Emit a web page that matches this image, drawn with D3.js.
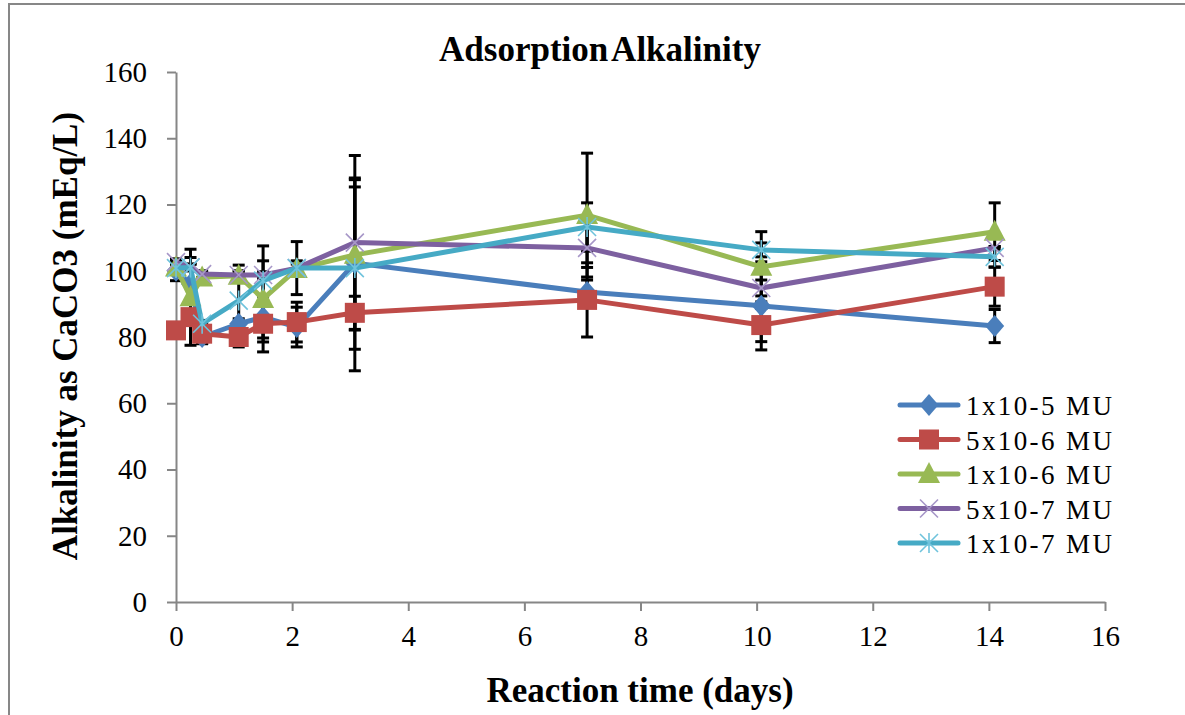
<!DOCTYPE html>
<html>
<head>
<meta charset="utf-8">
<script src="https://cdn.jsdelivr.net/npm/d3@7"></script>
<style>
  body { margin: 0; background: #fff; }
  text { font-family: "Liberation Serif", "Times New Roman", serif; }
</style>
</head>
<body>
<div class="container"></div>
<script>
// reaction times (days)
const times = [0, 0.25, 0.45, 1.08, 1.5, 2.08, 3.08, 7.08, 10.08, 14.1];

const names = ["1x10-5 MU", "5x10-6 MU", "1x10-6 MU", "5x10-7 MU", "1x10-7 MU"];

// alkalinity as CaCO3 (mEq/L)
const blueVals   = [100, 96, 80, 84, 86, 83, 102.3, 93.6, 89.4, 83.3];
const redVals    = [82, 86, 81, 80, 84, 84.5, 87.3, 91.2, 83.6, 95.2];
const greenVals  = [101, 92, 98, 98.5, 91.5, 100.5, 104.8, 116.8, 101.2, 111.8];
const purpleVals = [102.6, 101, 99, 98.7, 98.7, 100.8, 108.5, 106.9, 94.8, 106.9];
const cyanVals   = [100.8, 101, 84, 91, 97, 100.8, 100.8, 113.2, 106.3, 104.2];

// error bar half widths
const blueErr   = [3, 8, 2, 1.5, 6.3, 6, 32.5, 3.6, 13.3, 5];
const redErr    = [1.5, 1.5, 3, 3, 5.5, 6, 5, 11.2, 5, 5.9];
const greenErr  = [1.5, 14.5, 1.5, 1.5, 16, 1.5, 22.7, 18.7, 10.6, 8.7];
const purpleErr = [1, 1, 1, 1, 1, 8, 19.5, 5.9, 2.4, 0.4];
const cyanErr   = [1, 1, 1, 10.7, 6, 2.2, 24.5, 7.3, 2.1, 3.1];

const xTicks = [0, 2, 4, 6, 8, 10, 12, 14, 16];
const yTicks = [0, 20, 40, 60, 80, 100, 120, 140, 160];

const colors = ["#4a7ebb", "#be4b48", "#98b954", "#7d60a0", "#46aac5"];
const markColors = ["#4a7ebb", "#be4b48", "#98b954", "#a797c8", "#6fc3dc"];
const shapes = ["diamond", "square", "triangle", "cross", "star"];

const series = [blueVals, redVals, greenVals, purpleVals, cyanVals].map((vals, i) => ({
    name: names[i],
    color: colors[i],
    mcolor: markColors[i],
    shape: shapes[i],
    pts: vals.map((v, j) => ({t: times[j], v: v,
        e: [blueErr, redErr, greenErr, purpleErr, cyanErr][i][j]}))
}));

const width = 1185, height = 715;
const svg = d3.select(".container")
              .append("svg")
              .attr("width", width)
              .attr("height", height);

// chart frame
svg.append("rect")
   .attr("x", 9).attr("y", 4)
   .attr("width", 1200).attr("height", 730)
   .attr("fill", "none")
   .attr("stroke", "#878787")
   .attr("stroke-width", 2);

const x = d3.scaleLinear().domain([0, 16]).range([176, 1105]);
const y = d3.scaleLinear().domain([0, 160]).range([602, 72]);

const xAxis = svg.append("g")
                 .attr("transform", `translate(0,${y(0)})`)
                 .call(d3.axisBottom(x).tickValues(xTicks).tickSize(9).tickPadding(14).tickSizeOuter(0));
const yAxis = svg.append("g")
                 .attr("transform", `translate(${x(0)},0)`)
                 .call(d3.axisLeft(y).tickValues(yTicks).tickSize(9).tickPadding(20).tickSizeOuter(0));
[xAxis, yAxis].forEach(ax => {
    ax.select(".domain").attr("stroke", "#868686").attr("stroke-width", 2);
    ax.selectAll(".tick line").attr("stroke", "#868686").attr("stroke-width", 2);
    ax.selectAll(".tick text")
      .attr("fill", "#000")
      .style("font-family", "'Liberation Serif', serif")
      .style("font-size", "29px");
});

// error bars
const capW = 6;
const errG = svg.append("g").attr("stroke", "#000").attr("stroke-width", 3);
series.forEach(s => {
    s.pts.forEach(p => {
        errG.append("line")
            .attr("x1", x(p.t)).attr("x2", x(p.t))
            .attr("y1", y(p.v + p.e)).attr("y2", y(p.v - p.e));
        [p.v + p.e, p.v - p.e].forEach(c => {
            errG.append("line")
                .attr("x1", x(p.t) - capW).attr("x2", x(p.t) + capW)
                .attr("y1", y(c)).attr("y2", y(c));
        });
    });
});

function drawMarker(g, shape, cx, cy, color) {
    if (shape === "diamond") {
        g.append("path")
         .attr("d", `M${cx},${cy - 11}L${cx + 9.5},${cy}L${cx},${cy + 11}L${cx - 9.5},${cy}Z`)
         .attr("fill", color);
    } else if (shape === "square") {
        g.append("rect")
         .attr("x", cx - 10).attr("y", cy - 10)
         .attr("width", 20).attr("height", 20)
         .attr("fill", color);
    } else if (shape === "triangle") {
        g.append("path")
         .attr("d", `M${cx},${cy - 12}L${cx + 11},${cy + 9}L${cx - 11},${cy + 9}Z`)
         .attr("fill", color);
    } else if (shape === "cross") {
        g.append("path")
         .attr("d", `M${cx - 9},${cy - 9}L${cx + 9},${cy + 9}M${cx - 9},${cy + 9}L${cx + 9},${cy - 9}`)
         .attr("stroke", color).attr("stroke-width", 1.6).attr("fill", "none");
    } else {
        g.append("path")
         .attr("d", `M${cx - 9},${cy - 9}L${cx + 9},${cy + 9}M${cx - 9},${cy + 9}L${cx + 9},${cy - 9}M${cx},${cy - 10}L${cx},${cy + 10}`)
         .attr("stroke", color).attr("stroke-width", 1.6).attr("fill", "none");
    }
}

const line = d3.line().x(d => x(d.t)).y(d => y(d.v));
series.forEach(s => {
    const g = svg.append("g");
    g.append("path")
     .datum(s.pts)
     .attr("d", line)
     .attr("fill", "none")
     .attr("stroke", s.color)
     .attr("stroke-width", 5)
     .attr("stroke-linejoin", "round");
    s.pts.forEach(p => drawMarker(g, s.shape, x(p.t), y(p.v), s.mcolor));
});

// legend
const legend = svg.append("g");
series.forEach((s, i) => {
    const ly = 405 + i * 34.5;
    legend.append("line")
          .attr("x1", 900).attr("x2", 958)
          .attr("y1", ly).attr("y2", ly)
          .attr("stroke", s.color).attr("stroke-width", 5)
          .attr("stroke-linecap", "round");
    drawMarker(legend, s.shape, 929, ly, s.mcolor);
    legend.append("text")
          .attr("x", 966).attr("y", ly + 10)
          .attr("font-size", 27)
          .attr("letter-spacing", 2.4)
          .text(s.name);
});

// titles
svg.append("text")
   .attr("x", 600).attr("y", 61)
   .attr("text-anchor", "middle")
   .attr("font-size", 35).attr("font-weight", "bold")
   .attr("word-spacing", -4)
   .text("Adsorption Alkalinity");
svg.append("text")
   .attr("x", 640).attr("y", 702)
   .attr("text-anchor", "middle")
   .attr("font-size", 35).attr("font-weight", "bold")
   .text("Reaction time (days)");
svg.append("text")
   .attr("transform", "translate(77,336) rotate(-90)")
   .attr("text-anchor", "middle")
   .attr("font-size", 35).attr("font-weight", "bold")
   .text("Alkalinity as CaCO3 (mEq/L)");
</script>
</body>
</html>
